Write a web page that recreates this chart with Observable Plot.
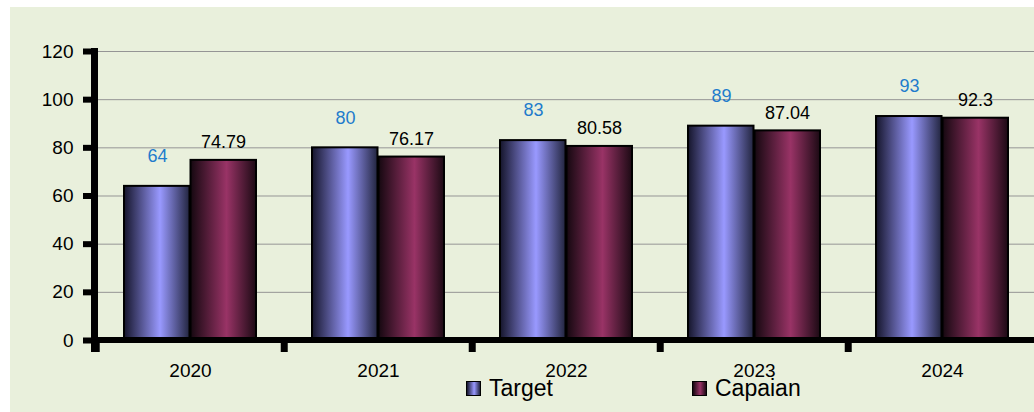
<!DOCTYPE html>
<html>
<head>
<meta charset="utf-8">
<script src="https://cdn.jsdelivr.net/npm/d3@7"></script>
<script src="https://cdn.jsdelivr.net/npm/@observablehq/plot@0.6"></script>
<style>
  html, body { margin: 0; padding: 0; background: #fff; overflow: hidden; }
  #wrap { position: relative; width: 1034px; height: 412px; font-family: "Liberation Sans", Arial, sans-serif; }
  #bg { position: absolute; left: 10px; top: 7px; right: 0; bottom: 0; background: #e9f0dc; }
  #chart { position: absolute; left: 0; top: 0; }
  .leg { position: absolute; top: 377px; display: flex; align-items: center; font-size: 23px; color: #000; line-height: 1; }
  .sw { width: 13px; height: 13px; border: 1px solid #000; margin-right: 8px; }
</style>
</head>
<body>
<div id="wrap">
  <div id="bg"></div>
  <div id="chart"></div>
  <div class="leg" style="left:466px"><div class="sw" style="background:linear-gradient(to right,#15152b,#9999ff 55%,#22253f)"></div>Target</div>
  <div class="leg" style="left:692px"><div class="sw" style="background:linear-gradient(to right,#150810,#993366 55%,#1c0a14)"></div>Capaian</div>
</div>
<script>
const years = ["2020", "2021", "2022", "2023", "2024"];
const target = [64, 80, 83, 89, 93];
const capaian = [74.79, 76.17, 80.58, 87.04, 92.3];
const yTicks = [0, 20, 40, 60, 80, 100, 120];

const rows = years.map((year, i) => ({year, target: target[i], capaian: capaian[i]}));

const padInner = 0.2954, padOuter = 0.1477;

function defs() {
  const d = d3.create("svg:defs");
  const mk = (id, a, b, c) => {
    const g = d.append("linearGradient").attr("id", id).attr("x1", "0").attr("x2", "1").attr("y1", "0").attr("y2", "0");
    g.append("stop").attr("offset", "0").attr("stop-color", a);
    g.append("stop").attr("offset", "0.55").attr("stop-color", b);
    g.append("stop").attr("offset", "1").attr("stop-color", c);
  };
  mk("gT", "#15152b", "#9999ff", "#22253f");
  mk("gC", "#150810", "#993366", "#1c0a14");
  return d.node();
}

function axisLines(index, scales, values, dims) {
  const g = d3.create("svg:g").attr("stroke", "#000").attr("fill", "none");
  const x = scales.x, y = scales.y;
  const y0 = y(0), yTop = y(120);
  const step = x(years[1]) - x(years[0]);
  const bw = step * (1 - padInner);
  g.append("line").attr("x1", dims.marginLeft).attr("x2", dims.width).attr("y1", y0).attr("y2", y0).attr("stroke-width", 6);
  for (const yr of years) {
    const c = x(yr) + bw / 2 - step / 2;
    g.append("line").attr("x1", c).attr("x2", c).attr("y1", y0).attr("y2", y0 + 12).attr("stroke-width", 7);
  }
  g.append("line").attr("x1", dims.marginLeft + 3.5).attr("x2", dims.marginLeft + 3.5)
    .attr("y1", yTop - 3).attr("y2", y0 + 12).attr("stroke-width", 7);
  return g.node();
}

const chart = Plot.plot({
  width: 1034,
  height: 412,
  marginLeft: 91,
  marginRight: 0,
  marginTop: 51,
  marginBottom: 72,
  style: {background: "transparent", overflow: "hidden", fontFamily: "Liberation Sans, Arial, sans-serif", color: "#000"},
  x: {type: "band", domain: years, range: [94, 1037.75], paddingInner: padInner, paddingOuter: padOuter, axis: null},
  y: {domain: [0, 120], axis: null},
  marks: [
    defs,
    Plot.ruleY(yTicks.filter(d => d > 0), {stroke: "#959595", strokeWidth: 1}),
    Plot.barY(rows, {x: "year", y: "target", fill: "url(#gT)", stroke: "#000", strokeWidth: 2, insetRight: 66.5}),
    Plot.barY(rows, {x: "year", y: "capaian", fill: "url(#gC)", stroke: "#000", strokeWidth: 2, insetLeft: 66.5}),
    Plot.text(rows, {x: "year", y: "target", text: d => String(d.target), dx: -33, dy: -30, fill: "#1e7ccc", fontSize: 18}),
    Plot.text(rows, {x: "year", y: "capaian", text: d => String(d.capaian), dx: 33, dy: -18, fill: "#000", fontSize: 18}),
    Plot.axisY({ticks: yTicks, tickSize: 8, strokeWidth: 6, tickFormat: () => "", label: null}),
    Plot.text(yTicks, {y: d => d, text: d => String(d), frameAnchor: "left", textAnchor: "end", dx: -18, fontSize: 19, fill: "#000"}),
    Plot.text(years, {x: d => d, text: d => d, frameAnchor: "bottom", dy: 36, fontSize: 19, fill: "#000"}),
    axisLines
  ]
});
document.getElementById("chart").appendChild(chart);
</script>
</body>
</html>
